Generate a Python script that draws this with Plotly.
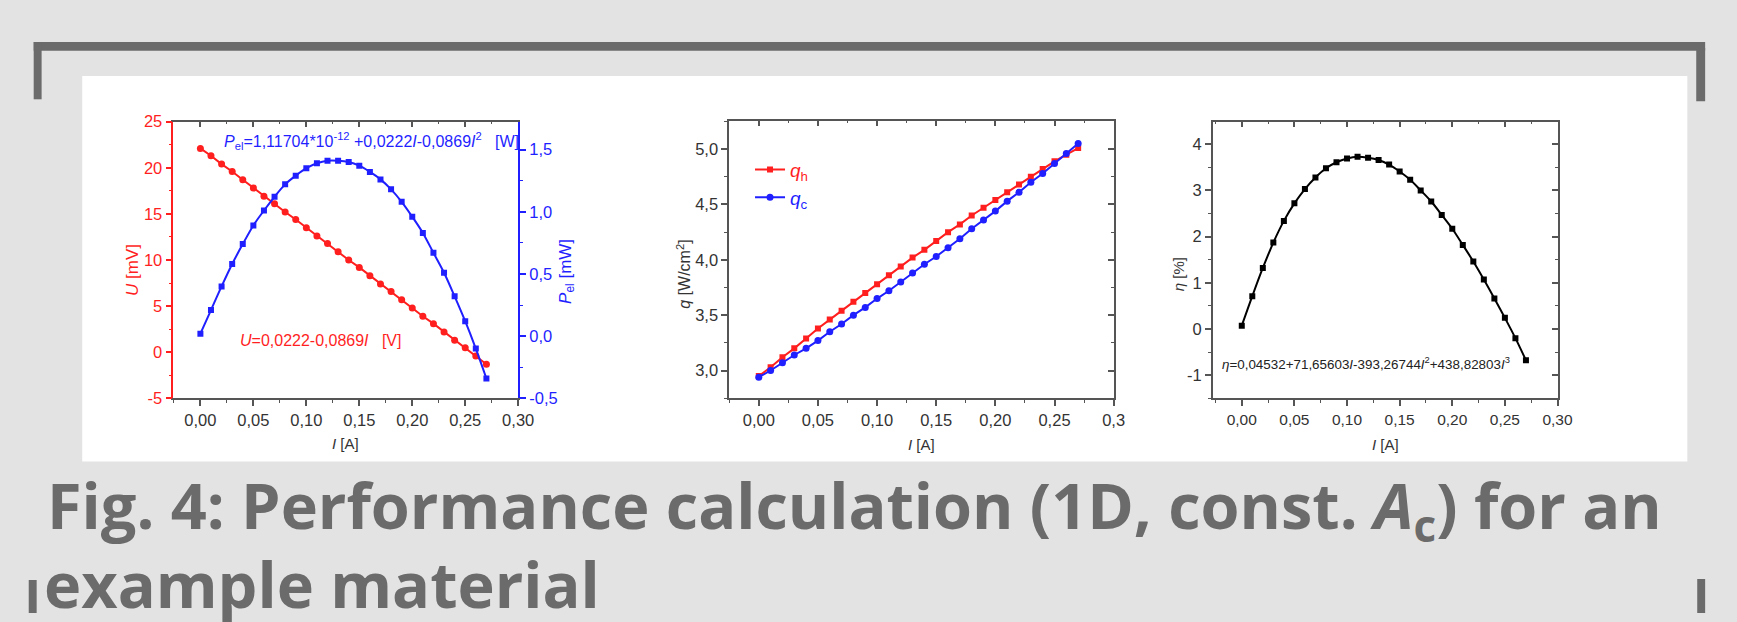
import plotly.graph_objects as go

W, H = 1737, 622

# ---------------- data ----------------
current_A = [0.00, 0.01, 0.02, 0.03, 0.04, 0.05, 0.06, 0.07, 0.08, 0.09,
             0.10, 0.11, 0.12, 0.13, 0.14, 0.15, 0.16, 0.17, 0.18, 0.19,
             0.20, 0.21, 0.22, 0.23, 0.24, 0.25, 0.26, 0.27]

voltage_mV = [22.1, 21.3, 20.4, 19.6, 18.7, 17.8, 16.9, 16.1, 15.2, 14.4,
              13.5, 12.6, 11.8, 10.9, 10.0, 9.2, 8.3, 7.4, 6.6, 5.7,
              4.8, 3.9, 3.1, 2.2, 1.3, 0.5, -0.4, -1.3]

power_mW = [0.02, 0.21, 0.40, 0.58, 0.74, 0.89, 1.01, 1.12, 1.22, 1.29,
            1.35, 1.39, 1.41, 1.41, 1.40, 1.37, 1.32, 1.26, 1.18, 1.08,
            0.96, 0.83, 0.67, 0.51, 0.32, 0.12, -0.10, -0.34]

q_hot = [2.95, 3.03, 3.12, 3.20, 3.29, 3.38, 3.46, 3.54, 3.62, 3.70,
         3.78, 3.86, 3.94, 4.02, 4.09, 4.17, 4.25, 4.32, 4.40, 4.47,
         4.54, 4.61, 4.68, 4.75, 4.82, 4.89, 4.95, 5.01]

q_cold = [2.94, 3.00, 3.07, 3.14, 3.20, 3.27, 3.35, 3.42, 3.50, 3.57,
          3.65, 3.72, 3.80, 3.88, 3.96, 4.03, 4.11, 4.19, 4.28, 4.36,
          4.44, 4.53, 4.61, 4.70, 4.78, 4.87, 4.96, 5.05]

efficiency_pct = [0.07, 0.71, 1.32, 1.87, 2.34, 2.72, 3.03, 3.28, 3.48, 3.61,
                  3.69, 3.73, 3.71, 3.66, 3.56, 3.41, 3.23, 3.00, 2.76, 2.47,
                  2.17, 1.82, 1.46, 1.07, 0.66, 0.24, -0.20, -0.68]

x_tickvals = [0.00, 0.05, 0.10, 0.15, 0.20, 0.25, 0.30]
x_ticktext = ["0,00", "0,05", "0,10", "0,15", "0,20", "0,25", "0,30"]
x_ticktext_mid = ["0,00", "0,05", "0,10", "0,15", "0,20", "0,25", "0,3"]
u_tickvals = [-5, 0, 5, 10, 15, 20, 25]
u_ticktext = ["-5", "0", "5", "10", "15", "20", "25"]
p_tickvals = [-0.5, 0.0, 0.5, 1.0, 1.5]
p_ticktext = ["-0,5", "0,0", "0,5", "1,0", "1,5"]
q_tickvals = [3.0, 3.5, 4.0, 4.5, 5.0]
q_ticktext = ["3,0", "3,5", "4,0", "4,5", "5,0"]
eta_tickvals = [-1, 0, 1, 2, 3, 4]
eta_ticktext = ["-1", "0", "1", "2", "3", "4"]

# ---------------- styling helpers ----------------
RED = "#ff1f1f"
BLUE = "#1f1fff"
AXC = "#555555"
TXT = "#333333"
FONT = "Liberation Sans, Arial, sans-serif"


def px(x):
    return x / W


def py(y):
    return 1 - y / H


def axis(color=AXC, tickcolor=TXT, size=16.5, ticks="outside", labels=True, minor_dtick=None, **kw):
    d = dict(showline=True, linewidth=1.6, linecolor=color, ticks=ticks, ticklen=6,
             tickwidth=1.5, tickcolor=color, showgrid=False, zeroline=False,
             showticklabels=labels, tickmode="array", fixedrange=True,
             tickfont=dict(family=FONT, size=size, color=tickcolor))
    if minor_dtick is not None:
        d["minor"] = dict(ticks=ticks, ticklen=3, tickwidth=1.3, tickcolor=color,
                          dtick=minor_dtick, tick0=0, showgrid=False)
    d.update(kw)
    return d


d1x = [px(175), px(523)]
d2x = [px(736), px(1124)]
d3x = [px(1224), px(1572)]
dy = [py(401), py(116)]
dy2 = [py(401), py(115)]

XR1 = [-0.0255, 0.30]
XR2 = [-0.025, 0.30]
XR3 = [-0.0276, 0.30]
UR = [-5, 25]
PR = [-0.5, 1.724]
QR = [2.748, 5.257]
ER = [-1.505, 4.49]

fig = go.Figure()

# chart 1
fig.add_trace(go.Scatter(x=current_A, y=voltage_mV, mode="lines+markers", line=dict(color=RED, width=2),
                         marker=dict(symbol="circle", size=7, color=RED), showlegend=False,
                         xaxis="x", yaxis="y"))
fig.add_trace(go.Scatter(x=current_A, y=power_mW, mode="lines+markers",
                         line=dict(color=BLUE, width=2, shape="spline"),
                         marker=dict(symbol="square", size=6, color=BLUE), showlegend=False,
                         xaxis="x", yaxis="y2"))
# chart 2
fig.add_trace(go.Scatter(x=current_A, y=q_hot, mode="lines+markers", line=dict(color=RED, width=2),
                         marker=dict(symbol="square", size=6, color=RED),
                         name='<span style="color:#ff1f1f"><i>q</i><sub>h</sub></span>',
                         xaxis="x2", yaxis="y3"))
fig.add_trace(go.Scatter(x=current_A, y=q_cold, mode="lines+markers", line=dict(color=BLUE, width=2),
                         marker=dict(symbol="circle", size=7, color=BLUE),
                         name='<span style="color:#1f1fff"><i>q</i><sub>c</sub></span>',
                         xaxis="x2", yaxis="y3"))
# chart 3
fig.add_trace(go.Scatter(x=current_A, y=efficiency_pct, mode="lines+markers",
                         line=dict(color="#000000", width=2, shape="spline"),
                         marker=dict(symbol="square", size=6, color="#000000"), showlegend=False,
                         xaxis="x3", yaxis="y5"))

# invisible traces to make the mirror axes render
for xa, ya in [("x4", "y"), ("x5", "y3"), ("x2", "y4"), ("x6", "y5"), ("x3", "y6")]:
    fig.add_trace(go.Scatter(x=[None], y=[None], xaxis=xa, yaxis=ya, showlegend=False,
                             hoverinfo="skip", mode="markers"))

layout = dict(
    width=W, height=H, margin=dict(l=0, r=0, t=0, b=0),
    paper_bgcolor="#e3e3e3", plot_bgcolor="rgba(0,0,0,0)",
    font=dict(family=FONT, color=TXT),
    # chart 1
    xaxis=axis(domain=d1x, anchor="y", range=XR1, tickvals=x_tickvals, ticktext=x_ticktext, minor_dtick=0.025),
    xaxis4=axis(overlaying="x", side="top", anchor="y", range=XR1, tickvals=x_tickvals,
                ticks="inside", labels=False, minor_dtick=0.025),
    yaxis=axis(color=RED, tickcolor=RED, domain=dy, anchor="x", range=UR, tickvals=u_tickvals,
               ticktext=u_ticktext, minor_dtick=2.5),
    yaxis2=axis(color=BLUE, tickcolor=BLUE, overlaying="y", side="right", anchor="x", range=PR,
                tickvals=p_tickvals, ticktext=p_ticktext, minor_dtick=0.25),
    # chart 2
    xaxis2=axis(domain=d2x, anchor="y3", range=XR2, tickvals=x_tickvals, ticktext=x_ticktext_mid, minor_dtick=0.025),
    xaxis5=axis(overlaying="x2", side="top", anchor="y3", range=XR2, tickvals=x_tickvals,
                ticks="inside", labels=False, minor_dtick=0.025),
    yaxis3=axis(domain=dy2, anchor="x2", range=QR, tickvals=q_tickvals, ticktext=q_ticktext, minor_dtick=0.25),
    yaxis4=axis(overlaying="y3", side="right", anchor="x2", range=QR, tickvals=q_tickvals,
                ticks="inside", labels=False, minor_dtick=0.25),
    # chart 3
    xaxis3=axis(domain=d3x, anchor="y5", range=XR3, tickvals=x_tickvals, ticktext=x_ticktext, minor_dtick=0.025, size=15.5),
    xaxis6=axis(overlaying="x3", side="top", anchor="y5", range=XR3, tickvals=x_tickvals,
                ticks="inside", labels=False, minor_dtick=0.025),
    yaxis5=axis(domain=dy, anchor="x3", range=ER, tickvals=eta_tickvals, ticktext=eta_ticktext, minor_dtick=0.5),
    yaxis6=axis(overlaying="y5", side="right", anchor="x3", range=ER, tickvals=eta_tickvals,
                ticks="inside", labels=False, minor_dtick=0.5),
    legend=dict(x=px(757), y=py(146), xanchor="left", yanchor="top", bgcolor="rgba(0,0,0,0)",
                font=dict(family=FONT, size=19), itemwidth=30, tracegroupgap=0),
    showlegend=True,
)
fig.update_layout(**layout)

# white panel and frame decorations
shapes = [
    dict(type="rect", xref="paper", yref="paper", x0=px(83), x1=px(1703), y0=py(466), y1=py(69),
         fillcolor="white", line=dict(width=0), layer="below"),
]
GREY = "#6b6b6b"
for (x0, x1, y0, y1) in [(34, 1721, 34, 43), (34, 42, 34, 93), (1712, 1721, 40, 95),
                         (29, 37, 588, 622), (1713, 1721, 587, 622)]:
    shapes.append(dict(type="rect", xref="paper", yref="paper", x0=px(x0), x1=px(x1),
                       y0=py(y1), y1=py(y0), fillcolor=GREY, line=dict(width=0), layer="below"))
fig.update_layout(shapes=shapes)

anns = []


def ann(text, x, y, size, color=TXT, angle=0, xanchor="center", family=FONT):
    anns.append(dict(text=text, x=px(x), y=py(y), xref="paper", yref="paper", showarrow=False,
                     xanchor=xanchor, yanchor="middle", textangle=angle,
                     font=dict(family=family, size=size, color=color)))


# chart texts
ann("<i>P</i><sub>el</sub>=1,11704*10<sup>-12</sup> +0,0222<i>I</i>-0,0869<i>I</i><sup>2</sup>   [W]",
    224, 136, 16, BLUE, xanchor="left")
ann("<i>U</i>=0,0222-0,0869<i>I</i>   [V]", 240, 341, 16, RED, xanchor="left")
ann("<i>η</i>=0,04532+71,65603<i>I</i>-393,26744<i>I</i><sup>2</sup>+438,82803<i>I</i><sup>3</sup>",
    1231, 365, 13.4, "#222222", xanchor="left")

# axis titles
ann("<i>I</i> [A]", 349, 447, 15)
ann("<i>I</i> [A]", 930, 448, 15)
ann("<i>I</i> [A]", 1398, 448, 15)
ann("<i>U</i> [mV]", 133, 269, 17, RED, angle=-90)
ann("<i>P</i><sub>el</sub> [mW]", 572, 270, 17, BLUE, angle=-90)
ann("<i>q</i> [W/cm<sup>2</sup>]", 690, 273, 16, TXT, angle=-90)
ann("<i>η</i> [%]", 1189, 273, 15, TXT, angle=-90)

# caption
ann("<b>Fig. 4: Performance calculation (1D, const. <i>A</i><sub>c</sub>) for an</b>", 45, 514, 63,
    GREY, xanchor="left", family="Open Sans")
ann("<b>example material</b>", 42, 592, 63, GREY, xanchor="left", family="Open Sans")

fig.update_layout(annotations=anns)

fig.write_html("out.html")
